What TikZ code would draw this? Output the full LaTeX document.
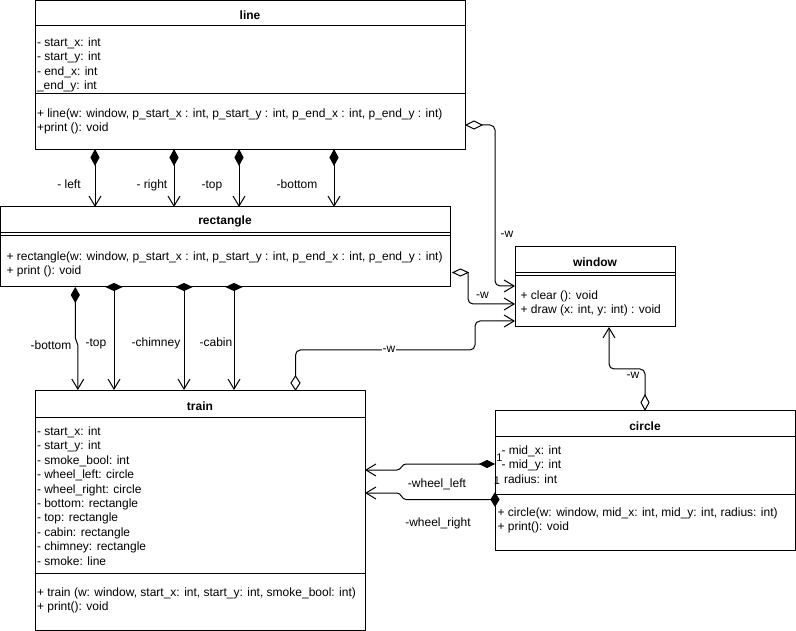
\documentclass[tikz,border=0pt]{standalone}
\usepackage{fontspec}
\setmainfont{Liberation Sans}
\usetikzlibrary{arrows.meta,calc,shapes.geometric}
\tikzset{
  box/.style={draw, line width=1pt, anchor=north west, inner sep=0pt, outer sep=0pt},
  ttl/.style={anchor=base, inner sep=0pt, font=\bfseries\fontsize{12}{14.4}\selectfont},
  txt/.style={anchor=north west, inner sep=0pt, align=left, font=\fontsize{12}{14.4}\selectfont},
  lbl/.style={inner sep=1pt, fill=white, font=\fontsize{12}{14.4}\selectfont},
  blbl/.style={lbl, anchor=base},
  mult/.style={inner sep=0pt, font=\fontsize{11}{13}\selectfont},
  vdia/.style={diamond, draw, line width=1pt, inner sep=0pt, outer sep=0pt, minimum width=8pt, minimum height=15pt},
  hdia/.style={diamond, draw, line width=1pt, inner sep=0pt, outer sep=0pt, minimum width=15pt, minimum height=7pt},
  full/.style={fill=black},
  hollow/.style={fill=white},
  conn/.style={draw, line width=1pt, rounded corners=5pt, -{Straight Barb[length=10pt,width=12pt]}},
}
\begin{document}
\begin{tikzpicture}[x=1pt,y=-1pt,line width=1pt]
\useasboundingbox (0,0) rectangle (796,631);
% class boxes
\node[box,minimum width=430pt,minimum height=149.5pt] (line) at (35,0.5) {};
\node[box,minimum width=449.5pt,minimum height=80pt] (rect) at (0.5,207) {};
\node[box,minimum width=330pt,minimum height=240pt] (train) at (35,390) {};
\node[box,minimum width=160pt,minimum height=80pt] (window) at (515,247) {};
\node[box,minimum width=300pt,minimum height=140pt] (circle) at (495,410) {};
% dividers
\draw ($(line.north west)+(0,25.5)$) -- ($(line.north east)+(0,25.5)$);
\draw ($(line.north west)+(0,93.5)$) -- ($(line.north east)+(0,93.5)$);
\draw ($(rect.north west)+(0,26)$) -- ($(rect.north east)+(0,26)$);
\draw ($(rect.north west)+(0,29)$) -- ($(rect.north east)+(0,29)$);
\draw ($(train.north west)+(0,27)$) -- ($(train.north east)+(0,27)$);
\draw ($(train.north west)+(0,183)$) -- ($(train.north east)+(0,183)$);
\draw ($(window.north west)+(0,26)$) -- ($(window.north east)+(0,26)$);
\draw ($(window.north west)+(0,29)$) -- ($(window.north east)+(0,29)$);
\draw ($(circle.north west)+(0,26)$) -- ($(circle.north east)+(0,26)$);
\draw ($(circle.north west)+(0,84)$) -- ($(circle.north east)+(0,84)$);
% titles
\node[ttl] (lineT) at (250,20) {line};
\node[ttl] (rectT) at (225,225) {rectangle};
\node[ttl] (trainT) at (200,410) {train};
\node[ttl] (windowT) at (595,267) {window};
\node[ttl] (circleT) at (645,430) {circle};
% members
\node[txt] (lineA) at (36.5,35.9) {\strut- start\_x: int\\\strut- start\_y: int\\\strut- end\_x: int\\\strut\_end\_y: int};
\node[txt] (lineM) at (36.5,106.5) {\strut+ line(w: window, p\_start\_x : int, p\_start\_y : int, p\_end\_x : int, p\_end\_y : int)\\\strut+print (): void};
\node[txt] (rectM) at (6,249.5) {\strut+ rectangle(w: window, p\_start\_x : int, p\_start\_y : int, p\_end\_x : int, p\_end\_y : int)\\\strut+ print (): void};
\node[txt] (trainA) at (36.5,424.9) {\strut- start\_x: int\\\strut- start\_y: int\\\strut- smoke\_bool: int\\\strut- wheel\_left: circle\\\strut- wheel\_right: circle\\\strut- bottom: rectangle\\\strut- top: rectangle\\\strut- cabin: rectangle\\\strut- chimney: rectangle\\\strut- smoke: line};
\node[txt] (trainM) at (36.5,585.9) {\strut+ train (w: window, start\_x: int, start\_y: int, smoke\_bool: int)\\\strut+ print(): void};
\node[txt] (windowM) at (520,288.9) {\strut+ clear (): void\\\strut+ draw (x: int, y: int) : void};
\node[txt] (circleA) at (501,443.9) {\strut- mid\_x: int\\\strut- mid\_y: int\\\strut\hspace{2.5pt}radius: int};
\node[txt] (circleM) at (497,505.9) {\strut+ circle(w: window, mid\_x: int, mid\_y: int, radius: int)\\\strut+ print(): void};
% diamonds
\node[vdia,full] (dl1) at (95,157.5) {};
\node[vdia,full] (dl2) at (174,157.5) {};
\node[vdia,full] (dl3) at (239,157.5) {};
\node[vdia,full] (dl4) at (334,157.5) {};
\node[vdia,full,minimum height=14pt] (drb) at (75.3,295) {};
\node[hdia,full] (drt) at (114,287) {};
\node[hdia,full] (drc) at (184,287) {};
\node[hdia,full] (drk) at (234,287) {};
\node[hdia,hollow,minimum width=16pt,minimum height=8pt] (dlw) at (474,125) {};
\node[hdia,hollow] (drw) at (460.5,272.5) {};
\node[vdia,hollow,minimum width=9pt,minimum height=14pt] (dtw) at (295.5,383) {};
\node[vdia,hollow] (dcw) at (645,402.5) {};
\node[hdia,full,minimum width=14pt] (dwl) at (487,464) {};
\node[vdia,full,minimum height=13pt] (dwr) at (495,499.5) {};
% line -> rectangle
\draw[conn] (dl1.south) -- (dl1.south |- rect.north);
\draw[conn] (dl2.south) -- (dl2.south |- rect.north);
\draw[conn] (dl3.south) -- (dl3.south |- rect.north);
\draw[conn] (dl4.south) -- (dl4.south |- rect.north);
\node[blbl] (l1) at (69,189) {- left};
\node[blbl] (l2) at (152,189) {- right};
\node[blbl] (l3) at (212,189) {-top};
\node[blbl] (l4) at (297,189) {-bottom};
% rectangle -> train
\draw[conn,sharp corners] (drb.south) -- ++(0,36) to[out=-90,in=90] ++(2.5,7) coordinate (bj) -- (bj |- train.north);
\draw[conn] (drt.south) -- (drt.south |- train.north);
\draw[conn] (drc.south) -- (drc.south |- train.north);
\draw[conn] (drk.south) -- (drk.south |- train.north);
\node[blbl] (r1) at (51,350) {-bottom};
\node[blbl] (r2) at (96,347) {-top};
\node[blbl] (r3) at (156,347) {-chimney};
\node[blbl] (r4) at (216,347) {-cabin};
% aggregations to window
\draw[conn] (dlw.east) -| ($(window.north west)+(-20,39)$) -- ($(window.north west)+(0,39)$);
\node[lbl] (w1) at (507,234) {-w};
\draw[conn] (drw.east) |- ($(window.north west)+(0,57)$);
\node[lbl] (w2) at (482.5,295) {-w};
\draw[conn] (dtw.north) |- ($(window.north west)+(-40,103)$) |- ($(window.north west)+(0,74)$);
\node[lbl] (w3) at (389,349.5) {-w};
\draw[conn] (dcw.north) |- ($(window.south west)+(94,42)$) -- ($(window.south west)+(94,0)$);
\node[lbl] (w4) at (633,375) {-w};
% circle -> train
\draw[conn,sharp corners] (dwl.west) -- ++(-74,0) to[out=180,in=0] ++(-9,6) coordinate (wl) -- (wl -| train.east);
\draw[conn,sharp corners] (dwr.west) -- ++(-85,0) to[out=180,in=0] ++(-9,-6.5) coordinate (wr) -- (wr -| train.east);
\node[blbl] (c1) at (437,487) {-wheel\_left};
\node[blbl] (c2) at (438,526) {-wheel\_right};
\node[mult] (m1) at (499.5,458) {1};
\node[mult] (m2) at (497,481) {1};
\end{tikzpicture}
\end{document}
